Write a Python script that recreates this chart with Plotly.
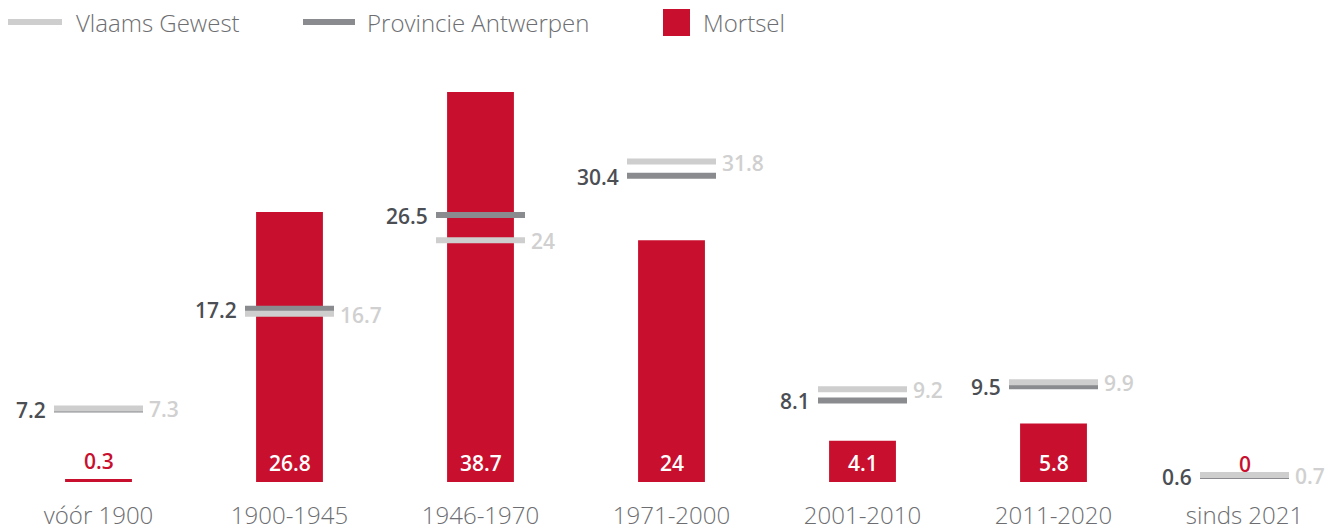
import plotly.graph_objects as go

# Building periods and share of dwellings (%) per region
periods = ["vóór 1900", "1900-1945", "1946-1970", "1971-2000", "2001-2010", "2011-2020", "sinds 2021"]
mortsel = [0.3, 26.8, 38.7, 24, 4.1, 5.8, 0]
provincie_antwerpen = [7.2, 17.2, 26.5, 30.4, 8.1, 9.5, 0.6]
vlaams_gewest = [7.3, 16.7, 24, 31.8, 9.2, 9.9, 0.7]

RED = "#c8102e"
DARK_LINE = "#898b8e"
DARK_TEXT = "#4b4e53"
LIGHT_LINE = "#cdcecd"
LIGHT_TEXT = "#d0d0d0"
AXIS_TEXT = "#6d6e71"
FONT = "Open Sans"

W, H = 1341, 531
ML, MR, MT, MB = 3, 1, 79, 49
Y_MAX = 40

LINE_PX = 89          # horizontal span of the regional reference lines
BAR_LABEL_MIN = 3     # bars lower than this get their label above the bar

fig = go.Figure()

fig.add_trace(go.Bar(
    x=periods, y=mortsel, name="Mortsel",
    marker=dict(color=RED, line=dict(width=0)),
    width=0.35, showlegend=False, hoverinfo="x+y",
))

# "line-ew" markers are 1.4 x size wide
for name, vals, col in [("Provincie Antwerpen", provincie_antwerpen, DARK_LINE),
                        ("Vlaams Gewest", vlaams_gewest, LIGHT_LINE)]:
    fig.add_trace(go.Scatter(
        x=periods, y=vals, name=name, mode="markers",
        marker=dict(symbol="line-ew", size=LINE_PX / 1.4,
                    line=dict(width=6, color=col)),
        showlegend=False, cliponaxis=False, hoverinfo="x+y",
    ))

annotations = []
bold = dict(family=FONT, size=21, weight=600)

for p, v in zip(periods, provincie_antwerpen):
    annotations.append(dict(
        x=p, y=v, text=f"{v:g}", showarrow=False, xanchor="right", yanchor="middle",
        xshift=-(LINE_PX / 2 + 6), yshift=-1, font=dict(**bold, color=DARK_TEXT),
    ))
for p, v in zip(periods, vlaams_gewest):
    annotations.append(dict(
        x=p, y=v, text=f"{v:g}", showarrow=False, xanchor="left", yanchor="middle",
        xshift=LINE_PX / 2 + 4, yshift=-1, font=dict(**bold, color=LIGHT_TEXT),
    ))
for p, v in zip(periods, mortsel):
    if v >= BAR_LABEL_MIN:
        annotations.append(dict(
            x=p, y=0, text=f"{v:g}", showarrow=False, xanchor="center", yanchor="bottom",
            yshift=3, font=dict(**bold, color="white"),
        ))
    else:
        annotations.append(dict(
            x=p, y=v, text=f"{v:g}", showarrow=False, xanchor="center", yanchor="bottom",
            yshift=2, font=dict(**bold, color=RED),
        ))

# Legend drawn in pixel positions converted to paper coordinates
pw = W - ML - MR
ph = H - MT - MB


def px_x(x):
    return (x - ML) / pw


def px_y(y):
    return (H - MB - y) / ph


shapes = [
    dict(type="line", xref="paper", yref="paper", x0=px_x(8), x1=px_x(62),
         y0=px_y(22), y1=px_y(22), line=dict(color=LIGHT_LINE, width=6)),
    dict(type="line", xref="paper", yref="paper", x0=px_x(303), x1=px_x(355),
         y0=px_y(22), y1=px_y(22), line=dict(color=DARK_LINE, width=6)),
    dict(type="rect", xref="paper", yref="paper", x0=px_x(663), x1=px_x(690),
         y0=px_y(36), y1=px_y(9), line=dict(width=0), fillcolor=RED),
]
legend_font = dict(family=FONT, size=24, color=AXIS_TEXT, weight=300)
for label, xpix in [("Vlaams Gewest", 74), ("Provincie Antwerpen", 365), ("Mortsel", 701)]:
    annotations.append(dict(
        xref="paper", yref="paper", x=px_x(xpix), y=px_y(22), text=label,
        showarrow=False, xanchor="left", yanchor="middle", font=legend_font,
    ))

fig.update_layout(
    width=W, height=H,
    margin=dict(l=ML, r=MR, t=MT, b=MB),
    paper_bgcolor="white", plot_bgcolor="white",
    showlegend=False,
    barmode="overlay",
    font=dict(family=FONT),
    xaxis=dict(
        type="category", range=[-0.5, len(periods) - 0.5],
        showgrid=False, zeroline=False, showline=False, ticks="",
        tickfont=dict(family=FONT, size=24, color=AXIS_TEXT, weight=300),
        ticklabelstandoff=17, fixedrange=True,
    ),
    yaxis=dict(
        range=[0, Y_MAX], showgrid=False, zeroline=False, showline=False,
        showticklabels=False, ticks="", fixedrange=True,
    ),
    annotations=annotations,
    shapes=shapes,
)

fig.write_html("out.html")
